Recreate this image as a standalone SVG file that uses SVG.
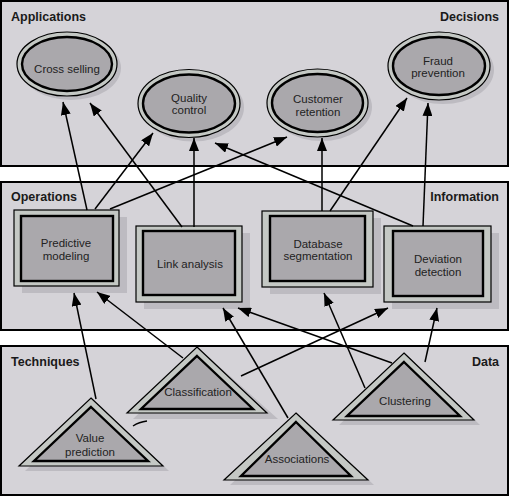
<svg xmlns="http://www.w3.org/2000/svg" width="509" height="497" viewBox="0 0 509 497">
<style>
.panel{fill:#d5d3d8;stroke:#000;stroke-width:2}
.plabel{font-family:"Liberation Sans",Arial,sans-serif;font-size:12.5px;font-weight:bold;fill:#1a1a1a}
.lbl{font-family:"Liberation Sans",Arial,sans-serif;font-size:11.5px;fill:#222;text-anchor:middle}
.shadow{fill:#bdbbc1;stroke:none}
.band{fill:#c4c8c4;stroke:#000;stroke-width:1.2}
.core{fill:#aaa8ac;stroke:#000;stroke-width:2.4}
.conn line,.conn path{stroke:#000;stroke-width:1.5;fill:none}
</style>
<defs>
<marker id="ah" markerUnits="userSpaceOnUse" markerWidth="14" markerHeight="10" refX="13" refY="5" orient="auto">
<path d="M0,0 L13,5 L0,10 Z" fill="#000"/>
</marker>
</defs>
<rect class="panel" x="1" y="1" width="507" height="165"/>
<rect class="panel" x="1" y="182" width="507" height="148"/>
<rect class="panel" x="1" y="346" width="507" height="149"/>
<text class="plabel" x="11" y="21">Applications</text>
<text class="plabel" x="499" y="21" text-anchor="end">Decisions</text>
<text class="plabel" x="11" y="201">Operations</text>
<text class="plabel" x="499" y="201" text-anchor="end">Information</text>
<text class="plabel" x="11" y="366">Techniques</text>
<text class="plabel" x="499" y="366" text-anchor="end">Data</text>

<g id="cross-selling">
<ellipse class="shadow" cx="71" cy="68" rx="50" ry="32"/>
<ellipse class="band" cx="67" cy="64" rx="50" ry="32"/>
<ellipse class="core" cx="67" cy="64" rx="45" ry="27"/>
<text class="lbl" x="67" y="73">Cross selling</text>
</g>
<g id="quality-control">
<ellipse class="shadow" cx="193" cy="107.5" rx="51" ry="34"/>
<ellipse class="band" cx="189" cy="103.5" rx="51" ry="34"/>
<ellipse class="core" cx="189" cy="103.5" rx="46" ry="29"/>
<text class="lbl" x="189" y="102">Quality</text>
<text class="lbl" x="189" y="114">control</text>
</g>
<g id="customer-retention">
<ellipse class="shadow" cx="321.5" cy="107" rx="50.5" ry="34"/>
<ellipse class="band" cx="317.5" cy="103" rx="50.5" ry="34"/>
<ellipse class="core" cx="317.5" cy="103" rx="45.5" ry="29"/>
<text class="lbl" x="318" y="103">Customer</text>
<text class="lbl" x="318" y="116">retention</text>
</g>
<g id="fraud-prevention">
<ellipse class="shadow" cx="443" cy="70" rx="51" ry="34"/>
<ellipse class="band" cx="439" cy="66" rx="51" ry="34"/>
<ellipse class="core" cx="439" cy="66" rx="46" ry="29"/>
<text class="lbl" x="438" y="65">Fraud</text>
<text class="lbl" x="438" y="77">prevention</text>
</g>

<g id="predictive-modeling">
<rect class="shadow" x="22" y="217" width="105" height="76"/>
<rect class="band" x="14" y="210" width="105" height="76"/>
<rect class="core" x="21" y="216" width="92" height="65"/>
<text class="lbl" x="66" y="247">Predictive</text>
<text class="lbl" x="66" y="260">modeling</text>
</g>
<g id="link-analysis">
<rect class="shadow" x="144" y="233" width="106" height="76"/>
<rect class="band" x="136" y="226" width="106" height="76"/>
<rect class="core" x="143" y="231" width="92" height="64"/>
<text class="lbl" x="190" y="268">Link analysis</text>
</g>
<g id="database-segmentation">
<rect class="shadow" x="270" y="218" width="111" height="76"/>
<rect class="band" x="262" y="211" width="111" height="76"/>
<rect class="core" x="270" y="216" width="95" height="65"/>
<text class="lbl" x="318" y="248">Database</text>
<text class="lbl" x="318" y="260">segmentation</text>
</g>
<g id="deviation-detection">
<rect class="shadow" x="392" y="233" width="107" height="76"/>
<rect class="band" x="384" y="226" width="107" height="76"/>
<rect class="core" x="393" y="231" width="90" height="65"/>
<text class="lbl" x="438" y="263">Deviation</text>
<text class="lbl" x="438" y="276">detection</text>
</g>

<g id="classification">
<polygon class="shadow" points="203,352 278,419 133,419"/>
<polygon class="band" points="197,347 267,413 127,413"/>
<polygon class="core" points="197,356 253,409 141,409"/>
<text class="lbl" x="198" y="396">Classification</text>
</g>
<g id="value-prediction">
<polygon class="shadow" points="97,403 169,471 25,471"/>
<polygon class="band" points="91,398 163,466 19,466"/>
<polygon class="core" points="91,407 148,461 34,461"/>
<text class="lbl" x="90" y="442">Value</text>
<text class="lbl" x="90" y="456">prediction</text>
</g>
<g id="associations">
<polygon class="shadow" points="302,418 374,485 230,485"/>
<polygon class="band" points="296,413 368,480 224,480"/>
<polygon class="core" points="296,422 351,476 241,476"/>
<text class="lbl" x="297" y="463">Associations</text>
</g>
<g id="clustering">
<polygon class="shadow" points="410,358 480,425 339,425"/>
<polygon class="band" points="404,353 474,420 333,420"/>
<polygon class="core" points="404,362 460,416 347,416"/>
<text class="lbl" x="405" y="405">Clustering</text>
</g>

<g id="connectors" class="conn">
<line x1="87" y1="210" x2="63" y2="102" marker-end="url(#ah)"/>
<line x1="182" y1="227" x2="90" y2="103" marker-end="url(#ah)"/>
<line x1="95" y1="209" x2="153" y2="133" marker-end="url(#ah)"/>
<line x1="194" y1="227" x2="194" y2="138" marker-end="url(#ah)"/>
<line x1="110" y1="209" x2="287" y2="137" marker-end="url(#ah)"/>
<line x1="413" y1="226" x2="215" y2="143" marker-end="url(#ah)"/>
<line x1="322" y1="211" x2="322" y2="138" marker-end="url(#ah)"/>
<line x1="330" y1="211" x2="407" y2="98" marker-end="url(#ah)"/>
<line x1="423" y1="226" x2="428" y2="103" marker-end="url(#ah)"/>
<line x1="96" y1="399" x2="74" y2="293" marker-end="url(#ah)"/>
<line x1="183" y1="358" x2="97" y2="292" marker-end="url(#ah)"/>
<line x1="288" y1="418" x2="223" y2="308" marker-end="url(#ah)"/>
<line x1="392" y1="363" x2="238" y2="308" marker-end="url(#ah)"/>
<line x1="241" y1="376" x2="388" y2="308" marker-end="url(#ah)"/>
<line x1="365" y1="388" x2="324" y2="293" marker-end="url(#ah)"/>
<line x1="425" y1="362" x2="437" y2="308" marker-end="url(#ah)"/>
<path d="M133,426 Q139,422 147,421"/>
</g>
</svg>
